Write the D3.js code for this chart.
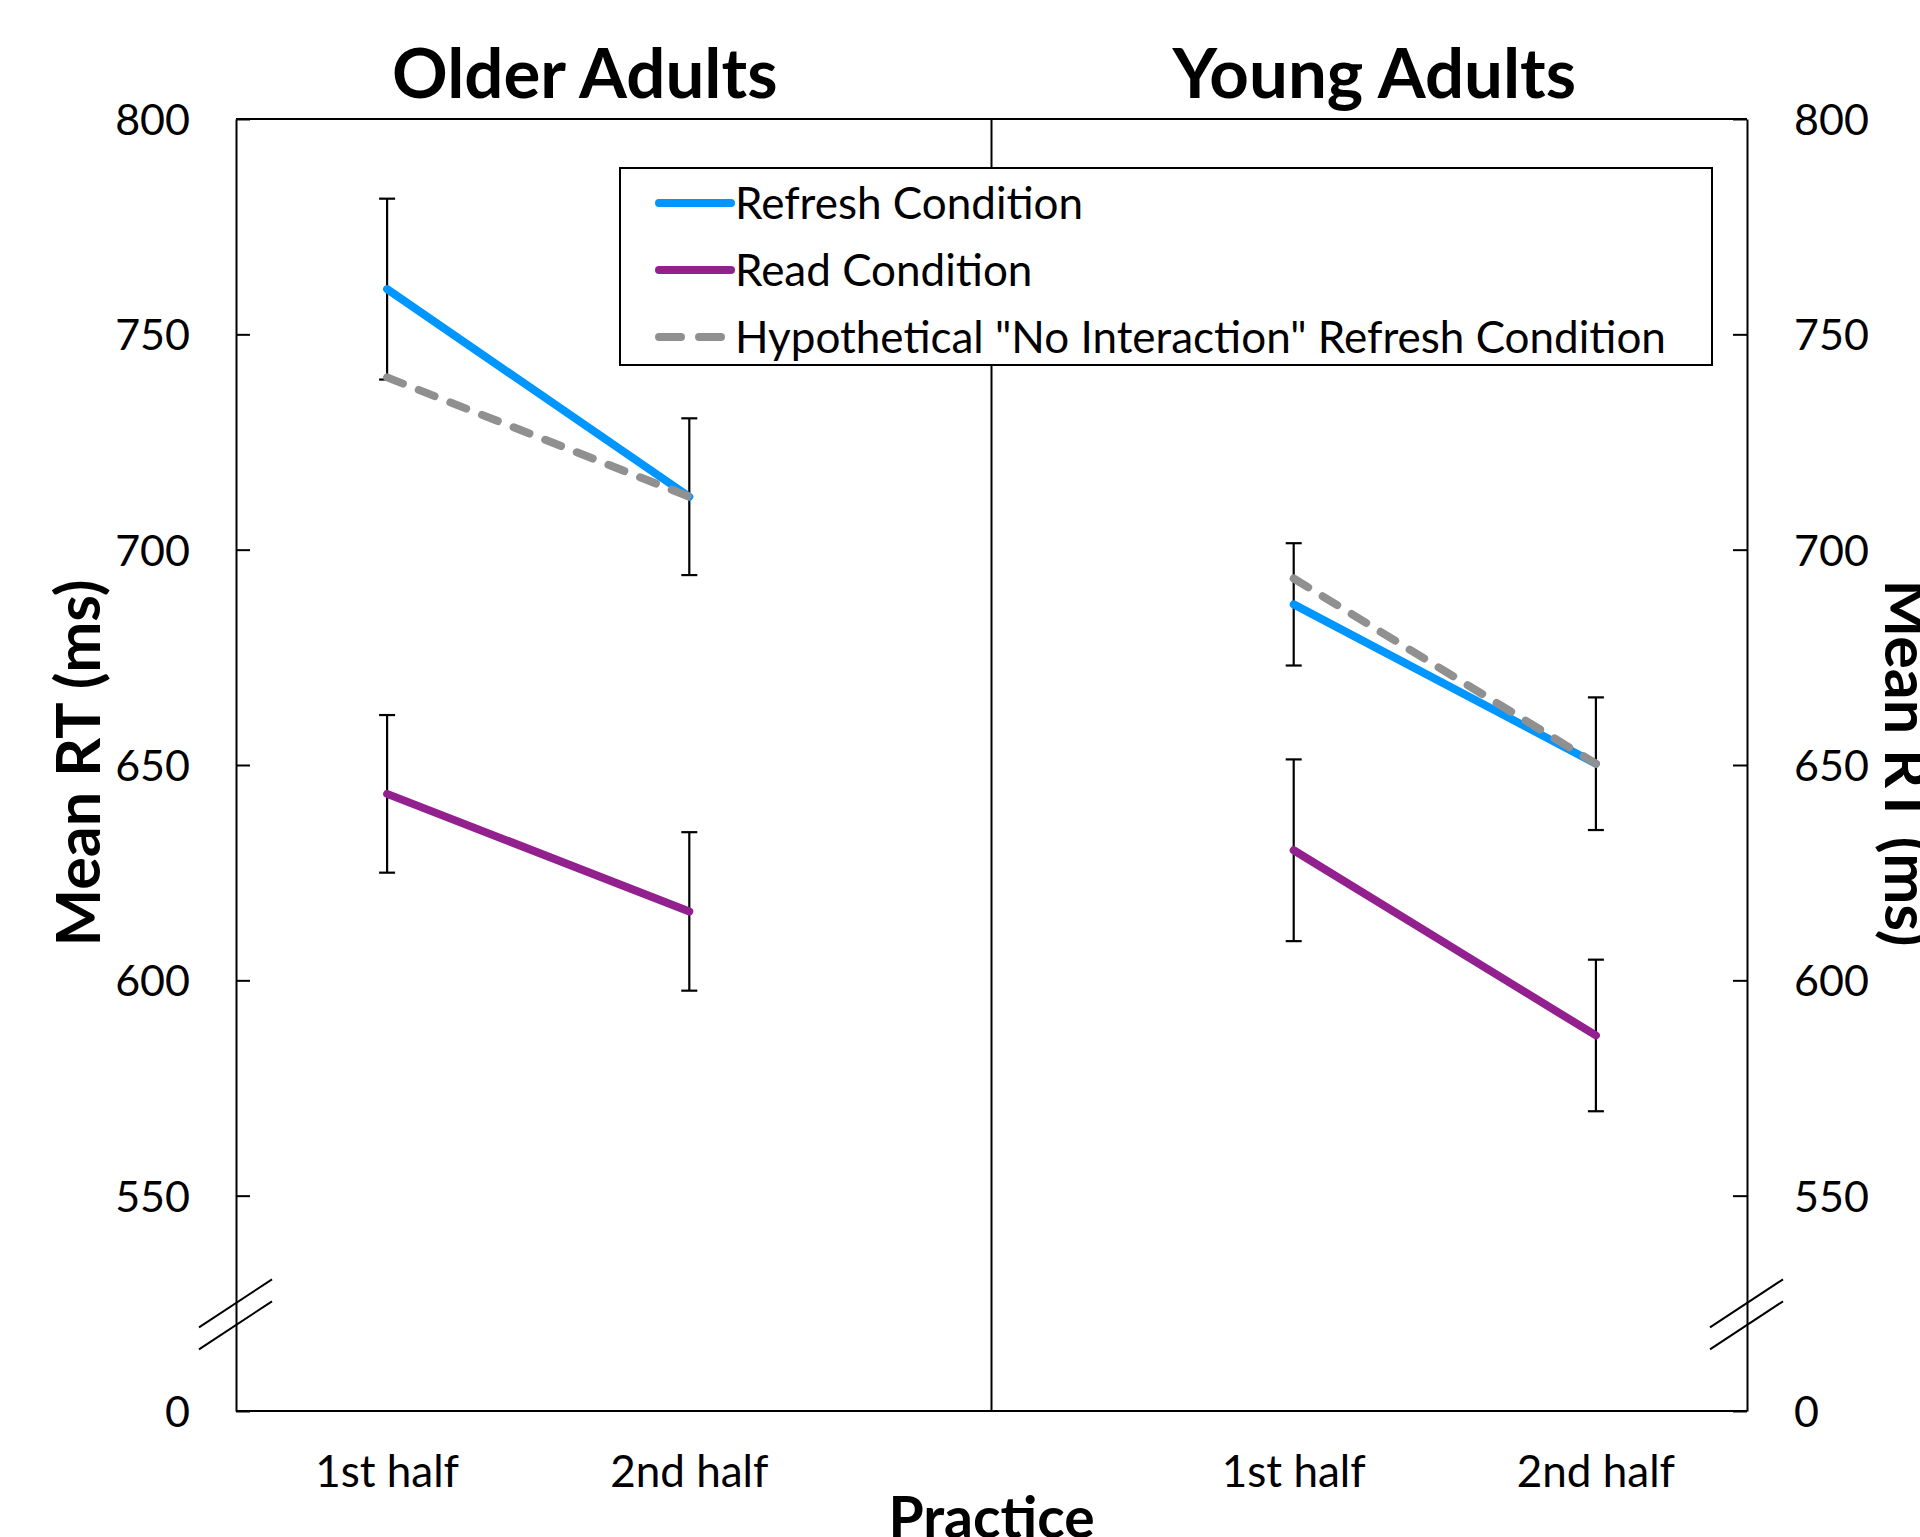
<!DOCTYPE html>
<html>
<head>
<meta charset="utf-8">
<script src="https://cdn.jsdelivr.net/npm/d3@7"></script>
<style>
  body { margin: 0; background: #fff; }
  text { font-family: Lato, "Open Sans", sans-serif; fill: #000; }
</style>
</head>
<body>
<div class="chart"></div>
<script>
// data
var groups = ["Older Adults", "Young Adults"];
var halves = ["1st half", "2nd half"];

var olderRefresh = [760.5, 712.3];
var olderRefreshErr = [21.0, 18.2];
var olderRead = [643.3, 616.0];
var olderReadErr = [18.3, 18.4];
var olderHypo = [740.0, 712.3];

var youngRefresh = [687.3, 650.3];
var youngRefreshErr = [14.2, 15.4];
var youngRead = [630.2, 587.2];
var youngReadErr = [21.1, 17.6];
var youngHypo = [693.3, 650.3];

var yTicks = [0, 550, 600, 650, 700, 750, 800];

var seriesNames = ["Refresh Condition", "Read Condition", "Hypothetical \"No Interaction\" Refresh Condition"];
var seriesColors = ["#0096FF", "#93208F", "#909090"];

var svgWidth = 1920;
var svgHeight = 1537;

var margin = {
  top: 119,
  right: 173,
  bottom: 126,
  left: 236
};

var width = svgWidth - margin.left - margin.right;
var height = svgHeight - margin.top - margin.bottom;

var svg = d3.select(".chart")
  .append("svg")
  .attr("width", svgWidth)
  .attr("height", svgHeight);

var chartGroup = svg.append("g")
  .attr("transform", `translate(${margin.left}, ${margin.top})`);

// x: five slots, the middle one is the panel divider
var xKeys = [groups[0] + "|" + halves[0], groups[0] + "|" + halves[1], "divider",
             groups[1] + "|" + halves[0], groups[1] + "|" + halves[1]];
var xScale = d3.scalePoint()
  .domain(xKeys)
  .range([0, width])
  .padding(0.5);

// y: broken axis, 0 sits one step below 550
var step = height / 6;
var yScale = d3.scaleLinear()
  .domain([0, 550, 800])
  .range([height, height - step, 0]);

// build series rows
var series = [
  { name: seriesNames[0], color: seriesColors[0], dash: null,
    values: olderRefresh.concat(youngRefresh), err: olderRefreshErr.concat(youngRefreshErr) },
  { name: seriesNames[1], color: seriesColors[1], dash: null,
    values: olderRead.concat(youngRead), err: olderReadErr.concat(youngReadErr) },
  { name: seriesNames[2], color: seriesColors[2], dash: "17,17",
    values: olderHypo.concat(youngHypo), err: null }
];

function pointsFor(s) {
  var pts = [];
  groups.forEach(function(g, gi) {
    halves.forEach(function(h, hi) {
      var i = gi * 2 + hi;
      pts.push({ group: g, key: g + "|" + h, v: s.values[i], e: s.err ? s.err[i] : null });
    });
  });
  return pts;
}

// axes
var leftAxis = d3.axisLeft(yScale)
  .tickValues(yTicks)
  .tickSizeInner(-14)
  .tickSizeOuter(0)
  .tickPadding(46)
  .tickFormat(d3.format("d"));

var rightAxis = d3.axisRight(yScale)
  .tickValues(yTicks)
  .tickSizeInner(-14)
  .tickSizeOuter(0)
  .tickPadding(47)
  .tickFormat(d3.format("d"));

var lAx = chartGroup.append("g").call(leftAxis);
var rAx = chartGroup.append("g")
  .attr("transform", `translate(${width}, 0)`)
  .call(rightAxis);

[lAx, rAx].forEach(function(ax) {
  ax.attr("font-family", null).attr("font-size", null);
  ax.selectAll("text").style("font-size", "43px").attr("dy", "0.36em");
  ax.selectAll("line").attr("stroke", "#000").attr("stroke-width", 2);
  ax.select(".domain").attr("stroke", "#000").attr("stroke-width", 2);
});

// frame: top, bottom, divider
chartGroup.append("line")
  .attr("x1", 0).attr("x2", width).attr("y1", 0).attr("y2", 0)
  .attr("stroke", "#000").attr("stroke-width", 2);
chartGroup.append("line")
  .attr("x1", 0).attr("x2", width).attr("y1", height).attr("y2", height)
  .attr("stroke", "#000").attr("stroke-width", 2);
chartGroup.append("line")
  .attr("x1", xScale("divider")).attr("x2", xScale("divider"))
  .attr("y1", 0).attr("y2", height)
  .attr("stroke", "#000").attr("stroke-width", 2);

// axis break marks
var yBreak = yScale(275);
[0, width].forEach(function(ax) {
  [0, 22].forEach(function(off) {
    chartGroup.append("line")
      .attr("x1", ax - 37).attr("y1", yBreak + off + 24)
      .attr("x2", ax + 36).attr("y2", yBreak + off - 24)
      .attr("stroke", "#000").attr("stroke-width", 2);
  });
});

// error bars
series.forEach(function(s) {
  if (!s.err) return;
  pointsFor(s).forEach(function(p) {
    var cx = xScale(p.key);
    var g = chartGroup.append("g").attr("stroke", "#000").attr("stroke-width", 2.2);
    g.append("line").attr("x1", cx).attr("x2", cx)
      .attr("y1", yScale(p.v + p.e)).attr("y2", yScale(p.v - p.e));
    g.append("line").attr("x1", cx - 8).attr("x2", cx + 8)
      .attr("y1", yScale(p.v + p.e)).attr("y2", yScale(p.v + p.e));
    g.append("line").attr("x1", cx - 8).attr("x2", cx + 8)
      .attr("y1", yScale(p.v - p.e)).attr("y2", yScale(p.v - p.e));
  });
});

// lines, one segment per panel
var line = d3.line()
  .x(d => xScale(d.key))
  .y(d => yScale(d.v));

series.forEach(function(s) {
  var pts = pointsFor(s);
  groups.forEach(function(g) {
    chartGroup.append("path")
      .datum(pts.filter(p => p.group === g))
      .attr("d", line)
      .attr("fill", "none")
      .attr("stroke", s.color)
      .attr("stroke-width", 8)
      .attr("stroke-linecap", "round")
      .attr("stroke-dasharray", s.dash);
  });
});

// panel titles
var panelW = xScale("divider");
chartGroup.append("text")
  .attr("x", panelW / 2 - 29)
  .attr("y", -21)
  .attr("text-anchor", "middle")
  .style("font-size", "69px")
  .style("font-weight", "bold")
  .text(groups[0]);
chartGroup.append("text")
  .attr("x", panelW * 1.5 + 5)
  .attr("y", -21)
  .attr("text-anchor", "middle")
  .style("font-size", "69px")
  .style("font-weight", "bold")
  .text(groups[1]);

// x labels
xKeys.filter(k => k !== "divider").forEach(function(k) {
  chartGroup.append("text")
    .attr("x", xScale(k))
    .attr("y", height + 76)
    .attr("text-anchor", "middle")
    .style("font-size", "44px")
    .text(k.split("|")[1]);
});

// axis titles
chartGroup.append("text")
  .attr("transform", `translate(${width / 2}, ${height + 127})`)
  .attr("text-anchor", "middle")
  .style("font-size", "57px")
  .style("font-weight", "bold")
  .text("Practice");

chartGroup.append("text")
  .attr("transform", `translate(${-136}, ${height / 2 - 2}) rotate(-90)`)
  .attr("text-anchor", "middle")
  .style("font-size", "61px")
  .style("font-weight", "bold")
  .text("Mean RT (ms)");

chartGroup.append("text")
  .attr("transform", `translate(${width + 138}, ${height / 2 - 2}) rotate(90)`)
  .attr("text-anchor", "middle")
  .style("font-size", "61px")
  .style("font-weight", "bold")
  .text("Mean RT (ms)");

// legend
var legend = svg.append("g").attr("transform", "translate(620, 168)");
legend.append("rect")
  .attr("width", 1092).attr("height", 197)
  .attr("fill", "#fff").attr("stroke", "#000").attr("stroke-width", 2);

series.forEach(function(s, i) {
  var ly = 35 + i * 67;
  legend.append("line")
    .attr("x1", 39).attr("x2", 111)
    .attr("y1", ly).attr("y2", ly)
    .attr("stroke", s.color)
    .attr("stroke-width", 8)
    .attr("stroke-linecap", "round")
    .attr("stroke-dasharray", s.dash ? "22,18" : null);
  legend.append("text")
    .attr("x", 115)
    .attr("y", ly)
    .attr("dy", "0.36em")
    .style("font-size", "44px")
    .text(s.name);
});
</script>
</body>
</html>
